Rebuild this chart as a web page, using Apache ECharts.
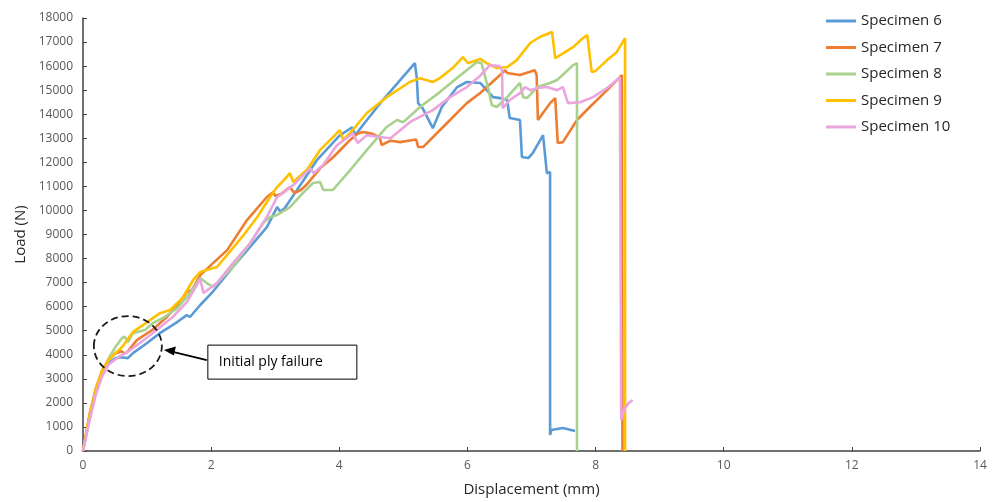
<!DOCTYPE html>
<html>
<head>
<meta charset="utf-8">
<script src="https://cdn.jsdelivr.net/npm/echarts@6/dist/echarts.min.js"></script>
<style>
  html, body {margin: 0; padding: 0; background: #fff;}
  #chart {width: 1000px; height: 502px;}
</style>
</head>
<body>
<div id="chart"></div>
<script>
// [displacement (mm), load (N)]
const specimen6 = [
  [0, 0], [0.1, 1400], [0.2, 2500], [0.3, 3200], [0.4, 3650], [0.5, 3850], [0.58, 3900], [0.7, 3860],
  [0.78, 4070], [1.0, 4490], [1.2, 4900], [1.47, 5360], [1.62, 5650], [1.67, 5570], [1.83, 6070],
  [2.01, 6570], [2.34, 7650], [2.87, 9310], [3.03, 10140], [3.08, 9950], [3.15, 10100], [3.34, 10850],
  [3.65, 12090], [4.0, 13100], [4.2, 13460], [4.25, 13130], [4.37, 13550], [4.68, 14590], [4.95, 15420],
  [5.18, 16120], [5.21, 15500], [5.23, 14460], [5.3, 14250], [5.46, 13420], [5.6, 14300], [5.84, 15130],
  [5.99, 15340], [6.2, 15300], [6.4, 14710], [6.51, 14670], [6.62, 14590], [6.66, 13840], [6.82, 13760],
  [6.85, 12220], [6.95, 12180], [7.02, 12380], [7.18, 13130], [7.24, 11550], [7.29, 11600], [7.29, 665],
  [7.31, 870], [7.49, 955], [7.68, 830]
];
const specimen7 = [
  [0, 0], [0.1, 1500], [0.2, 2600], [0.3, 3350], [0.4, 3800], [0.5, 4050], [0.6, 4150], [0.65, 4050],
  [0.69, 4110], [0.84, 4610], [1.08, 5030], [1.31, 5570], [1.51, 6190], [1.62, 6610], [1.7, 6700],
  [1.83, 7310], [2.03, 7810], [2.25, 8350], [2.56, 9600], [2.87, 10560], [2.97, 10760], [3.0, 10600],
  [3.1, 10700], [3.23, 10970], [3.3, 10720], [3.4, 10850], [3.5, 11100], [3.7, 11750], [3.9, 12200],
  [4.17, 12930], [4.29, 13200], [4.37, 13260], [4.5, 13200], [4.63, 13050], [4.66, 12720], [4.8, 12900],
  [4.95, 12840], [5.15, 12930], [5.2, 12950], [5.23, 12640], [5.31, 12640], [5.62, 13470], [5.99, 14460],
  [6.2, 14880], [6.51, 15630], [6.59, 15830], [6.62, 15710], [6.82, 15630], [7.05, 15830], [7.08, 15630],
  [7.1, 13760], [7.29, 14460], [7.37, 14670], [7.41, 12800], [7.49, 12840], [7.71, 13760], [7.91, 14300],
  [8.18, 15000], [8.38, 15540], [8.41, 15630], [8.42, 0]
];
const specimen8 = [
  [0, 0], [0.1, 1300], [0.2, 2400], [0.3, 3250], [0.4, 3850], [0.5, 4300], [0.61, 4700], [0.65, 4750],
  [0.7, 4530], [0.78, 4900], [0.97, 5030], [1.09, 5320], [1.25, 5530], [1.47, 5940], [1.65, 6500],
  [1.83, 7190], [1.93, 6980], [2.03, 6820], [2.34, 7650], [2.61, 8640], [2.81, 9480], [2.92, 9730],
  [3.03, 9810], [3.23, 10140], [3.43, 10720], [3.59, 11140], [3.7, 11180], [3.75, 10850], [3.9, 10850],
  [4.17, 11680], [4.43, 12510], [4.74, 13470], [4.9, 13760], [5.0, 13670], [5.26, 14300], [5.57, 14920],
  [5.88, 15600], [6.15, 16170], [6.22, 16120], [6.32, 15130], [6.38, 14380], [6.46, 14300], [6.62, 14710],
  [6.82, 15300], [6.87, 14710], [6.93, 14670], [7.09, 15130], [7.29, 15300], [7.4, 15420], [7.65, 16040],
  [7.71, 16120], [7.71, 0]
];
const specimen9 = [
  [0, 0], [0.1, 1450], [0.2, 2550], [0.3, 3350], [0.4, 3800], [0.5, 4050], [0.61, 4320], [0.69, 4610],
  [0.78, 4950], [0.94, 5240], [1.2, 5730], [1.36, 5860], [1.55, 6350], [1.72, 7110], [1.83, 7440],
  [1.93, 7520], [2.09, 7650], [2.25, 8150], [2.5, 8950], [2.72, 9730], [2.92, 10560], [3.03, 10970],
  [3.18, 11390], [3.23, 11550], [3.28, 11180], [3.5, 11700], [3.7, 12510], [4.01, 13340], [4.06, 12930],
  [4.17, 13220], [4.43, 14050], [4.74, 14710], [5.1, 15340], [5.26, 15500], [5.46, 15340], [5.57, 15500],
  [5.77, 15920], [5.93, 16370], [6.01, 16120], [6.2, 16300], [6.3, 16120], [6.46, 15920], [6.62, 15960],
  [6.77, 16250], [6.98, 16960], [7.13, 17210], [7.32, 17420], [7.37, 16330], [7.4, 16250], [7.65, 16790],
  [7.8, 17160], [7.87, 17290], [7.94, 15750], [8.0, 15800], [8.18, 16250], [8.33, 16580], [8.46, 17160],
  [8.46, 0]
];
const specimen10 = [
  [0, 0], [0.1, 1250], [0.2, 2350], [0.3, 3100], [0.4, 3600], [0.55, 3900], [0.69, 4110], [0.89, 4490],
  [1.15, 5030], [1.4, 5570], [1.62, 6190], [1.83, 7150], [1.88, 6570], [2.09, 6980], [2.34, 7810],
  [2.61, 8640], [2.87, 9730], [3.03, 10560], [3.12, 10720], [3.3, 11100], [3.45, 11500], [3.55, 11750],
  [3.6, 11550], [3.75, 11900], [3.96, 12700], [4.21, 13200], [4.29, 12800], [4.43, 13130], [4.63, 13050],
  [4.8, 13000], [5.1, 13670], [5.46, 14170], [5.73, 14710], [5.99, 15130], [6.2, 15600], [6.35, 16040],
  [6.5, 16000], [6.54, 15830], [6.55, 14250], [6.66, 14590], [6.82, 14880], [6.9, 15130], [6.98, 15000],
  [7.09, 15090], [7.24, 15130], [7.4, 15000], [7.49, 15130], [7.57, 14460], [7.76, 14500], [7.96, 14710],
  [8.18, 15090], [8.27, 15290], [8.38, 15540], [8.4, 1300], [8.45, 1750], [8.52, 2000], [8.58, 2120]
];

const names = ['Specimen 6', 'Specimen 7', 'Specimen 8', 'Specimen 9', 'Specimen 10'];
const colors = ['#5B9BD5', '#ED7D31', '#A9D18E', '#FFC000', '#EAA5DE'];
const allData = [specimen6, specimen7, specimen8, specimen9, specimen10];

const font = '"Open Sans", "Noto Sans", sans-serif';
const axisColor = '#404040';
const labelColor = '#595959';

const chart = echarts.init(document.getElementById('chart'));

chart.setOption({
  animation: false,
  backgroundColor: '#fff',
  grid: {left: 83, right: 20, top: 18, bottom: 51, containLabel: false, outerBoundsMode: 'none'},
  legend: {
    data: names,
    orient: 'vertical',
    left: 826,
    top: 12,
    padding: 0,
    itemGap: 8.5,
    itemWidth: 30,
    itemHeight: 3,
    icon: 'rect',
    textStyle: {fontFamily: font, fontSize: 15, color: '#262626', lineHeight: 18}
  },
  xAxis: {
    type: 'value',
    min: 0,
    max: 14,
    interval: 2,
    name: 'Displacement (mm)',
    nameLocation: 'middle',
    nameGap: 31,
    nameTextStyle: {fontFamily: font, fontSize: 15, color: '#262626'},
    axisLine: {lineStyle: {color: axisColor, width: 1.5}},
    axisTick: {inside: true, length: 4, lineStyle: {color: axisColor}},
    axisLabel: {fontFamily: font, fontSize: 12, color: labelColor, margin: 9},
    splitLine: {show: false}
  },
  yAxis: {
    type: 'value',
    min: 0,
    max: 18000,
    interval: 1000,
    name: 'Load (N)',
    nameLocation: 'middle',
    nameGap: 52,
    nameTextStyle: {fontFamily: font, fontSize: 15, color: '#262626'},
    axisLine: {show: true, lineStyle: {color: axisColor, width: 1.5}},
    axisTick: {show: true, inside: true, length: 4, lineStyle: {color: axisColor}},
    axisLabel: {fontFamily: font, fontSize: 12, color: labelColor, margin: 10, formatter: v => String(v)},
    splitLine: {show: false}
  },
  series: names.map((name, i) => ({
    name: name,
    type: 'line',
    data: allData[i],
    symbol: 'none',
    color: colors[i],
    lineStyle: {width: 2.6, color: colors[i]},
    z: 2 + i
  }))
});

// annotation: dashed ellipse around the first knee, arrow and text box
const c = chart.convertToPixel({gridIndex: 0}, [0.7, 4360]);
const tip = [c[0] + 36, c[1] + 4];
chart.setOption({
  graphic: [
    {
      type: 'ellipse',
      shape: {cx: c[0], cy: c[1], rx: 34, ry: 30},
      style: {fill: null, stroke: '#1a1a1a', lineWidth: 1.8, lineDash: [7, 4]},
      z: 20
    },
    {
      type: 'line',
      shape: {x1: tip[0] + 8, y1: tip[1] + 1.5, x2: tip[0] + 43, y2: tip[1] + 10},
      style: {stroke: '#000', lineWidth: 1.8},
      z: 20
    },
    {
      type: 'polygon',
      shape: {points: [[tip[0], tip[1]], [tip[0] + 12, tip[1] - 3.5], [tip[0] + 10, tip[1] + 5.5]]},
      style: {fill: '#000'},
      z: 20
    },
    {
      type: 'rect',
      shape: {x: tip[0] + 44, y: tip[1] - 5, width: 149, height: 34},
      style: {fill: '#fff', stroke: '#000', lineWidth: 1},
      z: 20
    },
    {
      type: 'text',
      x: tip[0] + 55,
      y: tip[1] + 12,
      style: {text: 'Initial ply failure', font: '14px ' + font, fill: '#000', verticalAlign: 'middle'},
      z: 21
    }
  ]
});
</script>
</body>
</html>
